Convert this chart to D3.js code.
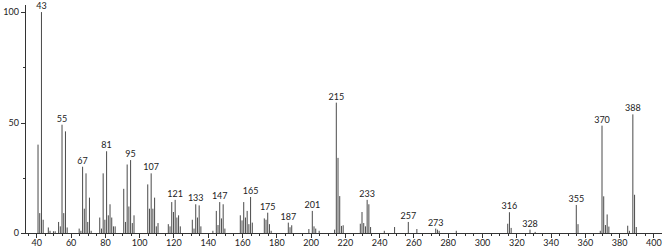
<!DOCTYPE html>
<html>
<head>
<meta charset="utf-8">
<script src="https://cdn.jsdelivr.net/npm/d3@7"></script>
<style>
  body { margin: 0; background: #fff; }
  svg { display: block; font-family: Lato, "Open Sans", sans-serif; }
  .axis path, .axis line { stroke: #333; shape-rendering: crispEdges; }
  .axis text { font-size: 9px; fill: #222; font-family: Lato, sans-serif; }
  .peak { stroke: #4a4a4a; stroke-width: 1; }
  .peaklabel { font-size: 9px; fill: #222; text-anchor: middle; }
</style>
</head>
<body>
<svg width="667" height="249"></svg>
<script>
// m/z values and relative intensities
var mz = [41,42,43,44,47,48,50,51,53,54,55,56,57,58,65,66,67,68,69,70,71,72,
  77,78,79,80,81,82,83,84,85,86,91,92,93,94,95,96,97,
  105,106,107,108,109,110,111,117,118,119,120,121,122,123,124,
  131,132,133,134,135,136,143,145,146,147,148,149,150,
  159,160,161,162,163,164,165,166,173,174,175,176,177,187,188,189,
  199,201,202,203,205,214,215,216,217,218,219,
  229,230,231,232,233,234,235,243,249,257,262,273,274,275,285,
  315,316,317,328,331,355,356,369,370,371,372,373,374,385,386,388,389,390];
var intensity = [40,9,100,6,2.5,1,0.8,0.8,5,3,49,9,46,2.5,2,1,30,11,27,5,16,1,
  7,2,27,6,37,8,13,7,3,3,20,5,31,12,33,4.5,8,
  22,11,27,11,16,3,4.5,4,3,14,9.5,15,7,8,3,
  6,2,13,7,12.5,3,1,10,3.6,14,6.6,13,2,
  8,5.7,14,7,10,4,16.3,4.7,6.6,6,9.2,4,1,4.7,2.6,3.5,
  1.8,10,3,2,1,1.5,59,34,16.7,3.2,3.5,
  4.2,9.5,4.5,3,15,13,2.7,1,2.7,5,1.8,2,1.5,1,1,
  4.2,9.4,2.3,1.5,0.5,12.7,4,1,48.6,16.6,3.6,8.4,2.9,3.3,1,53.7,17.3,2.7];

// peaks that carry an m/z label
var labelled = [43,55,67,81,95,107,121,133,147,165,175,187,201,215,233,257,273,316,328,355,370,388];

var xTicks = d3.range(35, 401, 5);
var yTicks = [0,25,50,75,100];

var svg = d3.select("svg");

var x = d3.scaleLinear().domain([33.4, 405]).range([25, 662]);
var y = d3.scaleLinear().domain([0, 103.2]).range([233, 5]);

var peaks = mz.map(function(m, i) { return {mz: m, v: intensity[i]}; });

//bars
svg.append("g")
  .selectAll("line")
  .data(peaks)
  .enter().append("line")
  .attr("class", "peak")
  .attr("x1", function(d) { return x(d.mz); })
  .attr("x2", function(d) { return x(d.mz); })
  .attr("y1", y(0))
  .attr("y2", function(d) { return y(d.v); });

//labels above the marked peaks
svg.append("g")
  .selectAll("text")
  .data(peaks.filter(function(d) { return labelled.indexOf(d.mz) >= 0; }))
  .enter().append("text")
  .attr("class", "peaklabel")
  .attr("x", function(d) { return x(d.mz); })
  .attr("y", function(d) { return y(d.v) - 3; })
  .text(function(d) { return d.mz; });

//x axis, minor tick every 5, label every 20
var xAxis = d3.axisBottom(x)
  .tickValues(xTicks)
  .tickSize(3)
  .tickSizeOuter(0)
  .tickFormat(function(d) { return d % 20 === 0 ? d : ""; });

var gx = svg.append("g")
  .attr("class", "axis")
  .attr("transform", "translate(0," + y(0) + ")")
  .call(xAxis);
gx.selectAll(".tick line")
  .attr("y2", function(d) { return d % 20 === 0 ? 5 : 3; });
gx.selectAll(".tick text").attr("y", 7);
gx.select(".domain").attr("d", "M25,0.5H662");

//y axis
var yAxis = d3.axisLeft(y)
  .tickValues(yTicks)
  .tickSize(4)
  .tickSizeOuter(0)
  .tickFormat(function(d) { return d % 50 === 0 ? d : ""; });

var gy = svg.append("g")
  .attr("class", "axis")
  .attr("transform", "translate(25,0)")
  .call(yAxis);
gy.selectAll(".tick line")
  .attr("x2", function(d) { return d % 50 === 0 ? -4 : -2; });
gy.selectAll(".tick text").attr("x", -6);
gy.select(".domain").attr("d", "M0.5,5V233");
</script>
</body>
</html>
